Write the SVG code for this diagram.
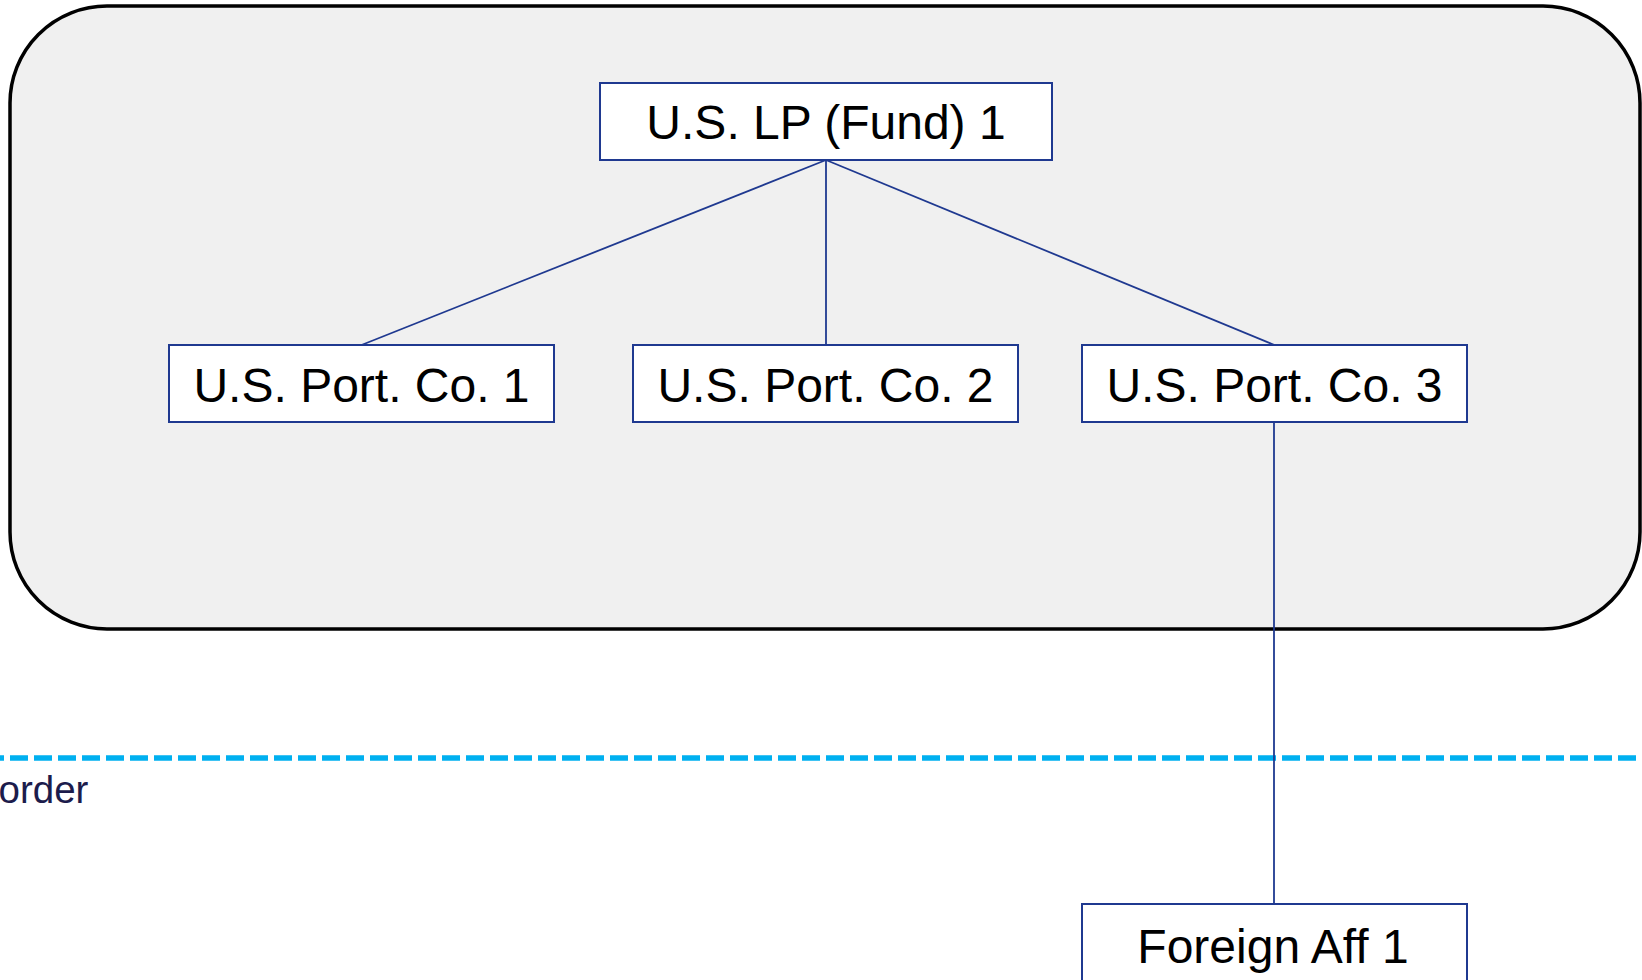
<svg xmlns="http://www.w3.org/2000/svg" width="1642" height="980" viewBox="0 0 1642 980">
  <defs>
    <filter id="soft" x="-5%" y="-200%" width="110%" height="500%">
      <feGaussianBlur stdDeviation="2"/>
    </filter>
    <style>
      .box { fill: #ffffff; stroke: #1f3990; stroke-width: 2; }
      .label { font-family: "Liberation Sans", Arial, sans-serif; font-size: 48px; fill: #000000; text-anchor: middle; }
      .link { stroke: #1f3990; stroke-width: 1.8; fill: none; }
      .border-line { stroke: #00b0f0; stroke-width: 5.5; stroke-dasharray: 18 6; fill: none; }
      .border-shadow { stroke: #9c9cc4; stroke-width: 7; stroke-dasharray: 18 6; fill: none; }
    </style>
  </defs>

  <!-- domestic grouping panel -->
  <g id="us-panel">
    <rect x="10" y="6" width="1630" height="623" rx="97" ry="97" fill="#f0f0f0" stroke="#000000" stroke-width="3.5"/>
  </g>

  <!-- border line with soft drop shadow -->
  <g id="border">
    <line class="border-shadow" x1="-14" y1="767" x2="1660" y2="767" filter="url(#soft)"/>
    <line class="border-line" x1="-14" y1="758" x2="1660" y2="758"/>
    <text x="-1.5" y="803" font-family="Liberation Sans, Arial, sans-serif" font-size="38.5" fill="#1c1c4c">order</text>
  </g>

  <!-- connectors -->
  <g id="connectors">
    <line class="link" x1="826" y1="160" x2="361.5" y2="345"/>
    <line class="link" x1="826" y1="160" x2="826" y2="345"/>
    <line class="link" x1="826" y1="160" x2="1274.5" y2="345"/>
    <line class="link" x1="1274" y1="422" x2="1274" y2="904"/>
  </g>

  <g id="fund">
    <rect class="box" x="600" y="83" width="452" height="77"/>
    <text class="label" x="826" y="139">U.S. LP (Fund) 1</text>
  </g>

  <g id="portco1">
    <rect class="box" x="169" y="345" width="385" height="77"/>
    <text class="label" x="361.5" y="402">U.S. Port. Co. 1</text>
  </g>

  <g id="portco2">
    <rect class="box" x="633" y="345" width="385" height="77"/>
    <text class="label" x="825.5" y="402">U.S. Port. Co. 2</text>
  </g>

  <g id="portco3">
    <rect class="box" x="1082" y="345" width="385" height="77"/>
    <text class="label" x="1274.5" y="402">U.S. Port. Co. 3</text>
  </g>

  <g id="foreign-aff">
    <rect class="box" x="1082" y="904" width="385" height="77"/>
    <text class="label" x="1273" y="963">Foreign Aff 1</text>
  </g>
</svg>
